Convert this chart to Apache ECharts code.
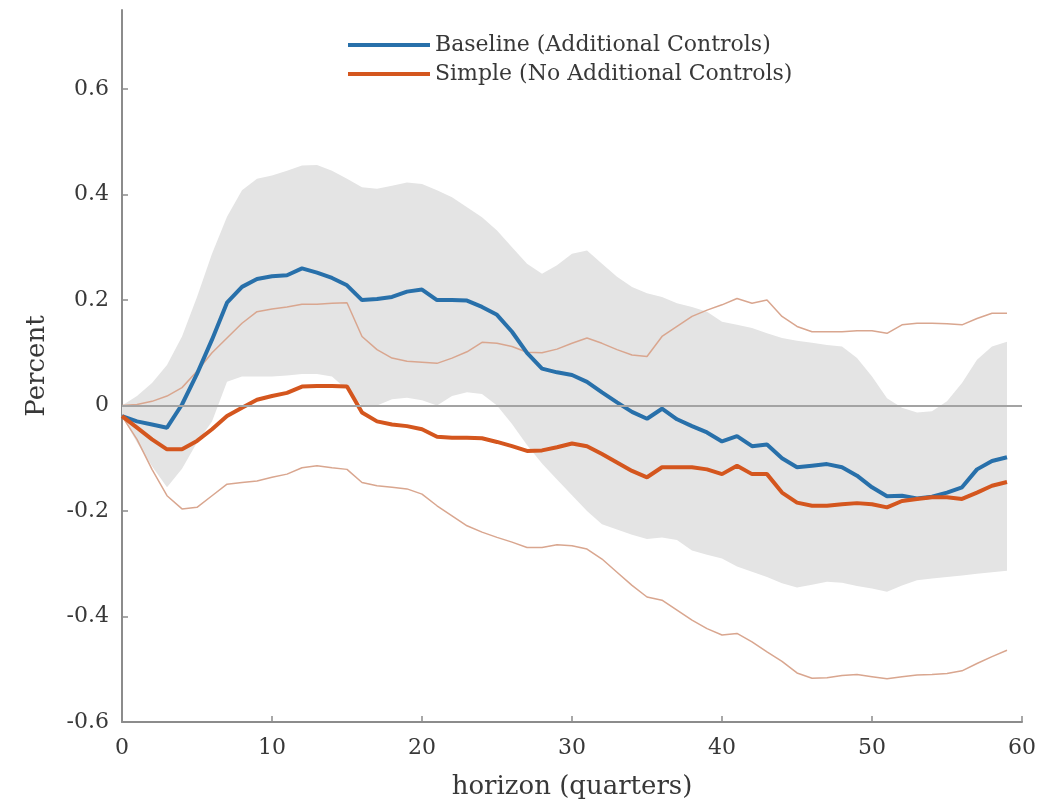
<!DOCTYPE html>
<html>
<head>
<meta charset="utf-8">
<script src="https://cdn.jsdelivr.net/npm/echarts@6/dist/echarts.min.js"></script>
<style>
  html, body { margin: 0; padding: 0; background: #ffffff; }
  #chart { width: 1058px; height: 805px; }
</style>
</head>
<body>
<div id="chart"></div>
<script>
// Horizon in quarters
const horizon = [0,1,2,3,4,5,6,7,8,9,10,11,12,13,14,15,16,17,18,19,
  20,21,22,23,24,25,26,27,28,29,30,31,32,33,34,35,36,37,38,39,
  40,41,42,43,44,45,46,47,48,49,50,51,52,53,54,55,56,57,58,59];

// Baseline response (additional controls), percent
const baseline = [-0.02,-0.03,-0.036,-0.042,0.002,0.06,0.125,0.195,0.225,0.24,
  0.245,0.247,0.26,0.252,0.242,0.228,0.2,0.202,0.206,0.216,
  0.22,0.2,0.2,0.199,0.187,0.172,0.14,0.1,0.07,0.063,
  0.058,0.045,0.025,0.006,-0.012,-0.025,-0.006,-0.026,-0.039,-0.051,
  -0.068,-0.058,-0.077,-0.074,-0.1,-0.117,-0.114,-0.111,-0.117,-0.133,
  -0.155,-0.172,-0.171,-0.176,-0.173,-0.165,-0.155,-0.121,-0.105,-0.098];

// Baseline confidence band
const baselineLower = [-0.02,-0.07,-0.115,-0.155,-0.12,-0.07,-0.03,0.045,0.055,0.055,
  0.055,0.057,0.06,0.06,0.055,0.03,0.0,0.0,0.012,0.015,
  0.01,0.0,0.018,0.025,0.022,0.0,-0.035,-0.075,-0.11,-0.14,
  -0.17,-0.2,-0.225,-0.235,-0.245,-0.253,-0.25,-0.255,-0.275,-0.283,
  -0.29,-0.305,-0.315,-0.325,-0.337,-0.345,-0.34,-0.334,-0.336,-0.342,
  -0.347,-0.353,-0.341,-0.331,-0.328,-0.325,-0.322,-0.319,-0.316,-0.313];
const baselineUpper = [0.0,0.018,0.043,0.077,0.131,0.206,0.288,0.358,0.408,0.43,
  0.436,0.445,0.455,0.456,0.445,0.43,0.414,0.411,0.417,0.423,
  0.42,0.408,0.395,0.376,0.357,0.332,0.3,0.269,0.25,0.266,
  0.288,0.294,0.269,0.244,0.225,0.213,0.206,0.194,0.187,0.178,
  0.159,0.153,0.147,0.137,0.128,0.123,0.119,0.115,0.112,0.09,
  0.055,0.014,-0.004,-0.013,-0.011,0.008,0.043,0.087,0.112,0.121];

// Simple response (no additional controls), percent
const simple = [-0.02,-0.042,-0.064,-0.083,-0.083,-0.067,-0.045,-0.02,-0.004,0.011,
  0.018,0.024,0.036,0.037,0.037,0.036,-0.013,-0.03,-0.036,-0.039,
  -0.045,-0.059,-0.061,-0.061,-0.062,-0.069,-0.077,-0.086,-0.085,-0.079,
  -0.072,-0.077,-0.092,-0.108,-0.124,-0.136,-0.117,-0.117,-0.117,-0.121,
  -0.13,-0.114,-0.13,-0.13,-0.165,-0.184,-0.19,-0.19,-0.187,-0.185,
  -0.187,-0.193,-0.181,-0.177,-0.174,-0.174,-0.177,-0.165,-0.152,-0.145];

// Simple confidence bounds
const simpleUpper = [0.0,0.002,0.008,0.018,0.034,0.065,0.1,0.128,0.156,0.178,
  0.183,0.187,0.192,0.192,0.194,0.195,0.131,0.106,0.09,0.084,
  0.082,0.08,0.09,0.102,0.12,0.118,0.112,0.101,0.1,0.107,
  0.118,0.128,0.118,0.106,0.096,0.093,0.131,0.15,0.169,0.181,
  0.191,0.203,0.194,0.2,0.169,0.15,0.14,0.14,0.14,0.142,
  0.142,0.137,0.153,0.156,0.156,0.155,0.153,0.165,0.175,0.175];
const simpleLower = [-0.02,-0.064,-0.121,-0.171,-0.196,-0.193,-0.171,-0.149,-0.146,-0.143,
  -0.136,-0.13,-0.118,-0.114,-0.118,-0.121,-0.146,-0.152,-0.155,-0.158,
  -0.168,-0.19,-0.209,-0.228,-0.24,-0.25,-0.259,-0.269,-0.269,-0.264,
  -0.266,-0.272,-0.291,-0.316,-0.341,-0.363,-0.369,-0.388,-0.407,-0.423,
  -0.435,-0.432,-0.448,-0.467,-0.485,-0.507,-0.517,-0.516,-0.512,-0.51,
  -0.514,-0.518,-0.514,-0.511,-0.51,-0.508,-0.503,-0.489,-0.476,-0.464];

const yTicks = [-0.6, -0.4, -0.2, 0, 0.2, 0.4, 0.6];

const FONT = 'DejaVu Serif';
const TEXT = '#383838';
const AXIS = '#8c8c8c';
const BLUE = '#2870aa';
const ORANGE = '#d4561e';
const THIN = '#d9a68f';

const pairs = arr => horizon.map((h, i) => [h, arr[i]]);

const chart = echarts.init(document.getElementById('chart'), null, { renderer: 'canvas' });

chart.setOption({
  animation: false,
  backgroundColor: '#ffffff',
  grid: { left: 122, right: 36, top: 10, bottom: 82, containLabel: false },
  legend: {
    orient: 'vertical',
    left: 348,
    top: 34,
    padding: 0,
    itemWidth: 82,
    itemHeight: 4,
    itemGap: 7,
    icon: 'rect',
    data: ['Baseline (Additional Controls)', 'Simple (No Additional Controls)'],
    textStyle: { fontFamily: FONT, fontSize: 22, color: TEXT, lineHeight: 22 }
  },
  xAxis: {
    type: 'value',
    min: 0, max: 60, interval: 10,
    name: 'horizon (quarters)',
    nameLocation: 'middle',
    nameGap: 52,
    nameTextStyle: { fontFamily: FONT, fontSize: 26, color: TEXT },
    axisLine: { show: true, onZero: false, lineStyle: { color: AXIS, width: 2 } },
    axisTick: { show: true, inside: true, length: 6, lineStyle: { color: AXIS, width: 1.5 } },
    axisLabel: { fontFamily: FONT, fontSize: 22, color: TEXT, margin: 15 },
    splitLine: { show: false }
  },
  yAxis: {
    type: 'value',
    min: -0.6, max: 0.75,
    name: 'Percent',
    nameLocation: 'middle',
    nameGap: 72,
    nameTextStyle: { fontFamily: FONT, fontSize: 26, color: TEXT },
    axisLine: { show: true, onZero: false, lineStyle: { color: AXIS, width: 2 } },
    axisTick: { show: true, inside: true, length: 6, customValues: yTicks, lineStyle: { color: AXIS, width: 1.5 } },
    axisLabel: { fontFamily: FONT, fontSize: 22, color: TEXT, margin: 13, customValues: yTicks },
    splitLine: { show: false }
  },
  series: [
    {
      name: 'band',
      type: 'custom',
      silent: true,
      z: 1,
      data: horizon.map((h, i) => [h, baselineLower[i], baselineUpper[i]]),
      encode: { x: 0, y: [1, 2] },
      renderItem: function (params, api) {
        if (params.dataIndex !== 0) return null;
        const pts = [];
        for (let i = 0; i < horizon.length; i++) pts.push(api.coord([horizon[i], baselineUpper[i]]));
        for (let i = horizon.length - 1; i >= 0; i--) pts.push(api.coord([horizon[i], baselineLower[i]]));
        return { type: 'polygon', shape: { points: pts }, style: { fill: '#e4e4e4' } };
      }
    },
    {
      name: 'Simple upper',
      type: 'line',
      z: 2,
      silent: true,
      showSymbol: false,
      data: pairs(simpleUpper),
      lineStyle: { color: THIN, width: 1.5 },
      itemStyle: { color: THIN },
      markLine: {
        silent: true,
        symbol: 'none',
        label: { show: false },
        lineStyle: { color: '#a3a3a3', width: 2, type: 'solid' },
        data: [{ yAxis: 0 }]
      }
    },
    {
      name: 'Simple lower',
      type: 'line',
      z: 2,
      silent: true,
      showSymbol: false,
      data: pairs(simpleLower),
      lineStyle: { color: THIN, width: 1.5 },
      itemStyle: { color: THIN }
    },
    {
      name: 'Baseline (Additional Controls)',
      type: 'line',
      z: 3,
      showSymbol: false,
      data: pairs(baseline),
      lineStyle: { color: BLUE, width: 4 },
      itemStyle: { color: BLUE }
    },
    {
      name: 'Simple (No Additional Controls)',
      type: 'line',
      z: 4,
      showSymbol: false,
      data: pairs(simple),
      lineStyle: { color: ORANGE, width: 4 },
      itemStyle: { color: ORANGE }
    }
  ]
});
</script>
</body>
</html>
